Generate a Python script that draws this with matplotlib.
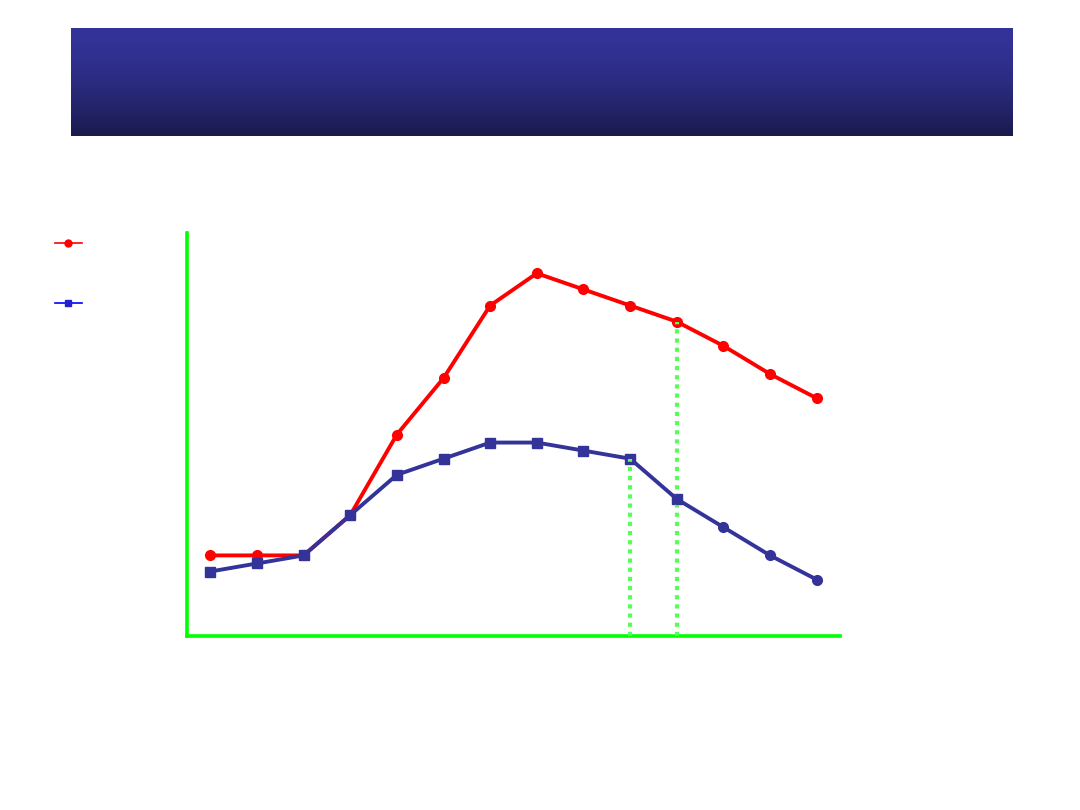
import numpy as np
import matplotlib
matplotlib.use('Agg')
import matplotlib.pyplot as plt
from matplotlib.lines import Line2D

# values (arbitrary units, 0-100)
x = np.arange(14)
red_vals = [20, 20, 20, 30, 50, 64, 82, 90, 86, 82, 78, 72, 65, 59]
blue_sq_x = np.arange(11)
blue_sq_vals = [16, 18, 20, 30, 40, 44, 48, 48, 46, 44, 34]
blue_ci_x = np.arange(10, 14)
blue_ci_vals = [34, 27, 20, 14]
drop_x = [9, 10]
drop_top = [44, 78]

green = '#00ff00'
red = '#ff0000'
navy = '#333399'

fig = plt.figure(figsize=(10.8, 8.1), dpi=100)

# header banner with vertical gradient
hax = fig.add_axes([71 / 1080, 1 - 136 / 810, 942 / 1080, 108 / 810])
top = np.array([51, 51, 153]) / 255
bot = np.array([26, 26, 77]) / 255
t = np.linspace(0, 1, 256) ** 1.6
grad = (top[None, :] * (1 - t[:, None]) + bot[None, :] * t[:, None])[:, None, :]
hax.imshow(grad, aspect='auto', extent=[0, 1, 0, 1], origin='upper')
hax.axis('off')

ax = fig.add_axes([187 / 1080, 174 / 810, 653 / 1080, 403 / 810])
ax.set_xlim(-0.5, 13.5)
ax.set_ylim(0, 100)

ax.plot(x, red_vals, color=red, lw=2.8, marker='o', ms=7, zorder=3)
ax.plot(blue_sq_x, blue_sq_vals, color=navy, lw=2.8, marker='s', ms=7, zorder=3.5)
ax.vlines(drop_x, 0, drop_top, colors='#55ff55', lw=3,
          linestyles=[(0, (1, 1.2))], zorder=4)
ax.plot(blue_ci_x, blue_ci_vals, color=navy, lw=2.8, marker='o', ms=7, zorder=5)

for side in ['top', 'right']:
    ax.spines[side].set_visible(False)
for side in ['left', 'bottom']:
    ax.spines[side].set_color(green)
    ax.spines[side].set_linewidth(2.6)
ax.set_xticks([])
ax.set_yticks([])

handles = [Line2D([], [], color=red, lw=1.2, marker='o', ms=5),
           Line2D([], [], color='#0000ff', lw=1.2, marker='s', ms=5,
                  markerfacecolor='#2222cc', markeredgecolor='#2222cc')]
fig.legend(handles, [' ', ' '], loc='upper left',
           bbox_to_anchor=(45 / 1080, 1 - 225 / 810), frameon=False,
           fontsize=14, handlelength=1.4, labelspacing=2.1, borderpad=0)

fig.savefig('out.png', dpi=100)
